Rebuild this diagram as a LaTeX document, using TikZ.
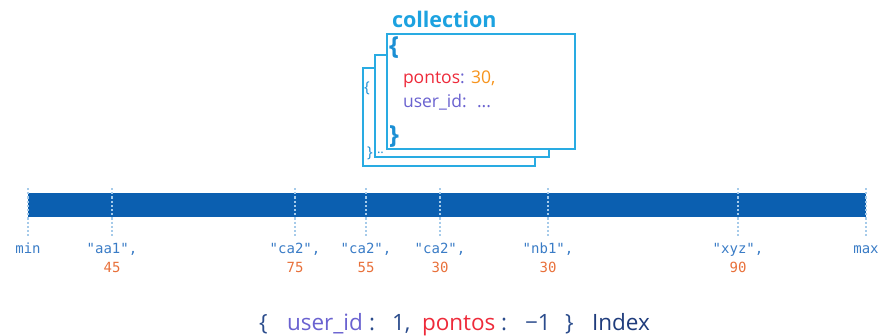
\documentclass[tikz,border=0pt]{standalone}
\usepackage{fontspec}
\setmainfont{Open Sans}
\newfontfamily\monofont{DejaVu Sans Mono}
\definecolor{barblue}{HTML}{0B5FB0}
\definecolor{tickblue}{HTML}{A6CBEA}
\definecolor{labblue}{HTML}{3A7CC6}
\definecolor{numorange}{HTML}{E8703A}
\definecolor{boxblue}{HTML}{29ABE2}
\definecolor{titleblue}{HTML}{1CA2E0}
\definecolor{bracecol}{HTML}{1B8FD4}
\definecolor{pred}{HTML}{EE2A3A}
\definecolor{porange}{HTML}{F7941D}
\definecolor{uslate}{HTML}{6A62D0}
\definecolor{navy}{HTML}{2B4C8C}
\definecolor{idxnavy}{HTML}{1F3C7C}
\tikzset{
  docbox/.style={draw=boxblue, fill=white, line width=1.3pt},
  txt/.style={anchor=base west, inner sep=0pt, outer sep=0pt},
  boxtxt/.style={txt, font=\fontsize{17.5}{20}\selectfont},
  bottxt/.style={txt, font=\fontsize{22.5}{26}\selectfont},
  lab/.style={anchor=base, inner sep=0pt, text=labblue, font=\monofont\fontsize{14}{16}\selectfont},
  num/.style={anchor=base, inner sep=0pt, text=numorange, font=\monofont\fontsize{14}{16}\selectfont},
  tickline/.style={draw=tickblue, line width=1.3pt, dash pattern=on 2.2pt off 2pt},
}
\begin{document}
\begin{tikzpicture}[x=1pt,y=-1pt]
\useasboundingbox (0,0) rectangle (878,335);
% collection title
\node[txt, text=titleblue, font=\bfseries\fontsize{21.5}{25}\selectfont] (title) at (392,27) {collection};
% back box
\draw[docbox] (363,68) rectangle (535,166);
\node[txt, text=bracecol, font=\fontsize{15}{18}\selectfont] (bkopen) at (364,92) {\{};
\node[txt, text=bracecol, font=\fontsize{15}{18}\selectfont] (bkclose) at (367,157) {\}};
% middle box
\draw[docbox] (375,55) rectangle (549,157);
\node[txt, text=bracecol, font=\fontsize{13}{15}\selectfont] (mdots) at (377,153) {..};
% front box
\draw[docbox] (387,34) rectangle (575,149);
\node[txt, text=bracecol, font=\bfseries\fontsize{25}{28}\selectfont] (fopen) at (389,54) {\{};
\node[txt, text=bracecol, font=\bfseries\fontsize{25}{28}\selectfont] (fclose) at (389,143) {\}};
\node[boxtxt, text=pred] (fpontos) at (403,83) {pontos};
\node[boxtxt, text=uslate, anchor=base west] (fcolon1) at (fpontos.base east) {:};
\node[boxtxt, text=porange] (f30) at (471,83) {30,};
\node[boxtxt, text=uslate] (fuser) at (403,107) {user\_id:};
\node[boxtxt, text=uslate] (fdots) at (477,107) {...};
% bar
\fill[barblue] (28,193) rectangle (866,217);
% ticks and labels
\foreach \x/\n/\l/\v in {28/a/{min}/{}, 112/b/{"aa1",}/{45}, 295/c/{"ca2",}/{75}, 366/d/{"ca2",}/{55}, 440/e/{"ca2",}/{30}, 548/f/{"nb1",}/{30}, 738/g/{"xyz",}/{90}, 866/h/{max}/{}}{
  \coordinate (t\n top) at (\x,188);
  \coordinate (t\n bot) at (\x,238);
  \draw[tickline] (t\n top) -- (t\n bot);
  \node[lab] (l\n) at (\x,253) {\l};
  \node[num] (n\n) at (\x,272) {\v};
}
% bottom index text
\node[bottxt, text=navy] (bopen) at (259,330) {\{};
\node[bottxt, text=uslate] (buser) at (287,330) {user\_id};
\node[bottxt, text=navy] (bcolon1) at (369,330) {:};
\node[bottxt, text=navy] (bone) at (392,330) {1,};
\node[bottxt, text=pred] (bpontos) at (422,330) {pontos};
\node[bottxt, text=navy] (bcolon2) at (501,330) {:};
\node[bottxt, text=navy] (bminus) at (525,330) {−1};
\node[bottxt, text=navy] (bclose) at (565,330) {\}};
\node[bottxt, text=idxnavy] (bindex) at (592,330) {Index};
\end{tikzpicture}
\end{document}
